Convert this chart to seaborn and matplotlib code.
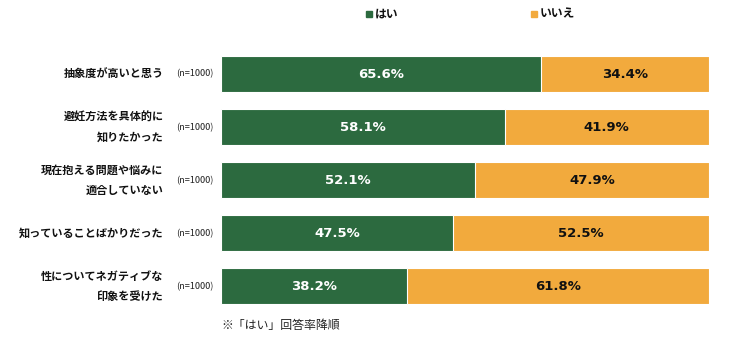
import matplotlib
matplotlib.use("Agg")
import matplotlib.pyplot as plt
import seaborn as sns
import pandas as pd

categories = [
    "抽象度が高いと思う",
    "避妊方法を具体的に\n知りたかった",
    "現在抱える問題や悩みに\n適合していない",
    "知っていることばかりだった",
    "性についてネガティブな\n印象を受けた",
]
yes_values = [65.6, 58.1, 52.1, 47.5, 38.2]
no_values = [34.4, 41.9, 47.9, 52.5, 61.8]
sample_label = "(n=1000)"
legend_labels = ["はい", "いいえ"]
footnote = "※「はい」回答率降順"

GREEN = "#2C6A3F"
ORANGE = "#F2AA3D"

sns.set_theme(style="white")
plt.rcParams["font.family"] = ["Noto Sans CJK JP", "DejaVu Sans"]

df = pd.DataFrame({
    "category": categories,
    "yes": yes_values,
    "no": no_values,
})
df["total"] = df["yes"] + df["no"]

fig = plt.figure(figsize=(7.5, 3.47), dpi=100)
ax = fig.add_axes([0.2947, 0.098, 0.6506, 0.765])

sns.barplot(data=df, x="total", y="category", orient="h", color=ORANGE,
            width=0.68, edgecolor="white", linewidth=0.8, saturation=1, ax=ax)
sns.barplot(data=df, x="yes", y="category", orient="h", color=GREEN,
            width=0.68, edgecolor="white", linewidth=0.8, saturation=1, ax=ax)

ax.set_xlim(0, 100)
ax.set_ylim(len(categories) - 0.5, -0.5)
ax.set_xlabel("")
ax.set_ylabel("")
ax.set_xticks([])
ax.set_yticks([])
for s in ax.spines.values():
    s.set_visible(False)

for i, (y, n) in enumerate(zip(yes_values, no_values)):
    ax.text(y / 2, i, f"{y:.1f}%", ha="center", va="center", color="white",
            fontsize=9.5, fontweight="bold", family="DejaVu Sans")
    ax.text(y + n / 2, i, f"{n:.1f}%", ha="center", va="center", color="#111111",
            fontsize=9.5, fontweight="bold", family="DejaVu Sans")
    ax.text(-1.6, i, sample_label, ha="right", va="center", fontsize=6.6,
            color="#222222")
    ax.text(-11.8, i, categories[i], ha="right", va="center", fontsize=8,
            fontweight="bold", color="#111111", linespacing=1.65)

# legend
fig.patches.append(plt.Rectangle((366 / 750, 1 - 17 / 347), 6 / 750, 6 / 347,
                                 transform=fig.transFigure, color=GREEN))
fig.text(375 / 750, 1 - 14 / 347, legend_labels[0], ha="left", va="center",
         fontsize=8.5, fontweight="bold", color="#111111")
fig.patches.append(plt.Rectangle((531 / 750, 1 - 17 / 347), 6 / 750, 6 / 347,
                                 transform=fig.transFigure, color=ORANGE))
fig.text(540 / 750, 1 - 14 / 347, legend_labels[1], ha="left", va="center",
         fontsize=8.5, fontweight="bold", color="#111111")

fig.text(221 / 750, 1 - 325 / 347, footnote, ha="left", va="center",
         fontsize=8.6, color="#222222")

fig.savefig("out.png", dpi=100, facecolor="white")
